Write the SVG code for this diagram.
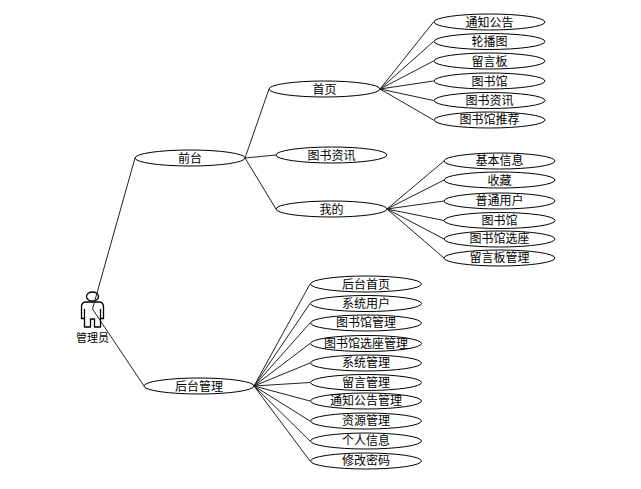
<svg xmlns="http://www.w3.org/2000/svg" width="641" height="489" viewBox="0 0 641 489">
<style>
.n{fill:#fff;stroke:#000;stroke-width:1}
.c{fill:none;stroke:#222;stroke-width:1}
.a{fill:#fff;stroke:#000;stroke-width:1.300;stroke-linejoin:round}
text{font-family:"Noto Sans CJK SC","Liberation Sans",sans-serif;font-size:12px;text-anchor:middle;fill:#000}
</style>
<rect width="641" height="489" fill="#fff"/>
<g id="actor">
<ellipse class="a" cx="92.500" cy="296.500" rx="6" ry="4.500"/>
<path class="a" d="M86 302H99Q103 302 103.500 306V318.500H100.500V327H94.500V319H90.500V327H84.500V318.500H81.500V306Q82 302 86 302Z"/>
<path class="a" d="M84.500 309V318.500M100.500 309V318.500"/>
<text x="92.500" y="342" style="font-size:11px">管理员</text>
</g>
<g id="connectors" class="c">
<path d="M92.500 309L135 158M92.500 309L144 386M245 158L269 89M245 158L276 155M245 158L276 209"/>
<path d="M380 89L433.500 22M380 89L433.500 41.500M380 89L433.500 61M380 89L433.500 81M380 89L433.500 100.500M380 89L433.500 120"/>
<path d="M387 209L444 161M387 209L444 180M387 209L444 201M387 209L444 220.500M387 209L444 239M387 209L444 258"/>
<path d="M254 386L310 284M254 386L310 303.500M254 386L310 323M254 386L310 343.500M254 386L310 363M254 386L310 382.500M254 386L310 401M254 386L310 421M254 386L310 441M254 386L310 461"/>
</g>
<g id="n1"><ellipse class="n" cx="190" cy="158" rx="55" ry="8"/><text x="190" y="162.500">前台</text></g>
<g id="n2"><ellipse class="n" cx="199" cy="386" rx="55" ry="8"/><text x="199" y="390.500">后台管理</text></g>
<g id="n3"><ellipse class="n" cx="324.500" cy="89" rx="55.500" ry="8"/><text x="324.500" y="93.500">首页</text></g>
<g id="n4"><ellipse class="n" cx="331.500" cy="155" rx="55.500" ry="8"/><text x="331.500" y="159.500">图书资讯</text></g>
<g id="n5"><ellipse class="n" cx="331.500" cy="209" rx="55.500" ry="8"/><text x="331.500" y="213.500">我的</text></g>
<g id="n6"><ellipse class="n" cx="489.500" cy="22" rx="55.500" ry="8"/><text x="489.500" y="26.500">通知公告</text></g>
<g id="n7"><ellipse class="n" cx="489.500" cy="41.500" rx="55.500" ry="8"/><text x="489.500" y="46">轮播图</text></g>
<g id="n8"><ellipse class="n" cx="489.500" cy="61" rx="55.500" ry="8"/><text x="489.500" y="65.500">留言板</text></g>
<g id="n9"><ellipse class="n" cx="489.500" cy="81" rx="55.500" ry="8"/><text x="489.500" y="85.500">图书馆</text></g>
<g id="n10"><ellipse class="n" cx="489.500" cy="100.500" rx="55.500" ry="8"/><text x="489.500" y="105">图书资讯</text></g>
<g id="n11"><ellipse class="n" cx="489.500" cy="120" rx="55.500" ry="8"/><text x="489.500" y="124">图书馆推荐</text></g>
<g id="n12"><ellipse class="n" cx="499.500" cy="161" rx="55.500" ry="8"/><text x="499.500" y="165">基本信息</text></g>
<g id="n13"><ellipse class="n" cx="499.500" cy="180" rx="55.500" ry="8"/><text x="499.500" y="184.500">收藏</text></g>
<g id="n14"><ellipse class="n" cx="499.500" cy="201" rx="55.500" ry="8"/><text x="499.500" y="205">普通用户</text></g>
<g id="n15"><ellipse class="n" cx="499.500" cy="220.500" rx="55.500" ry="8"/><text x="499.500" y="225">图书馆</text></g>
<g id="n16"><ellipse class="n" cx="499.500" cy="239" rx="55.500" ry="8"/><text x="499.500" y="243">图书馆选座</text></g>
<g id="n17"><ellipse class="n" cx="499.500" cy="258" rx="55.500" ry="8"/><text x="499.500" y="262">留言板管理</text></g>
<g id="n18"><ellipse class="n" cx="366" cy="284" rx="55.500" ry="8"/><text x="366" y="288.500">后台首页</text></g>
<g id="n19"><ellipse class="n" cx="366" cy="303.500" rx="55.500" ry="8"/><text x="366" y="308">系统用户</text></g>
<g id="n20"><ellipse class="n" cx="366" cy="323" rx="55.500" ry="8"/><text x="366" y="327">图书馆管理</text></g>
<g id="n21"><ellipse class="n" cx="366" cy="343.500" rx="55.500" ry="8"/><text x="366" y="348">图书馆选座管理</text></g>
<g id="n22"><ellipse class="n" cx="366" cy="363" rx="55.500" ry="8"/><text x="366" y="367">系统管理</text></g>
<g id="n23"><ellipse class="n" cx="366" cy="382.500" rx="55.500" ry="8"/><text x="366" y="387">留言管理</text></g>
<g id="n24"><ellipse class="n" cx="366" cy="401" rx="55.500" ry="8"/><text x="366" y="405">通知公告管理</text></g>
<g id="n25"><ellipse class="n" cx="366" cy="421" rx="55.500" ry="8"/><text x="366" y="425">资源管理</text></g>
<g id="n26"><ellipse class="n" cx="366" cy="441" rx="55.500" ry="8"/><text x="366" y="445">个人信息</text></g>
<g id="n27"><ellipse class="n" cx="366" cy="461" rx="55.500" ry="8"/><text x="366" y="465">修改密码</text></g>
</svg>
